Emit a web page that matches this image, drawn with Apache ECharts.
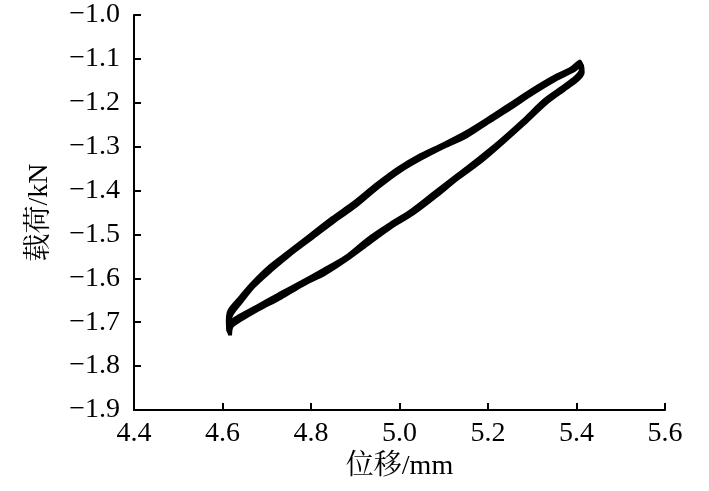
<!DOCTYPE html>
<html>
<head>
<meta charset="utf-8">
<script src="https://cdn.jsdelivr.net/npm/echarts@6/dist/echarts.min.js"></script>
<style>
  html, body { margin: 0; padding: 0; background: #fff; }
  #chart { width: 709px; height: 491px; }
</style>
</head>
<body>
<div id="chart"></div>
<script>
// x / y tick settings
const xTicks = [4.4, 4.6, 4.8, 5.0, 5.2, 5.4, 5.6]
const yTicks = [-1.9, -1.8, -1.7, -1.6, -1.5, -1.4, -1.3, -1.2, -1.1, -1.0]

// 位移(mm) / 载荷(kN) -- several loading cycles, each traced from the lower-left tip,
// up the upper branch to the top tip and back along the lower branch
const cycle1 = [
  [4.615, -1.725], [4.614, -1.700], [4.618, -1.678], [4.640, -1.650], [4.670, -1.615],
  [4.710, -1.575], [4.750, -1.545], [4.800, -1.505], [4.850, -1.467], [4.900, -1.430],
  [4.950, -1.390], [5.000, -1.352], [5.050, -1.322], [5.100, -1.298], [5.150, -1.272],
  [5.200, -1.242], [5.250, -1.208], [5.300, -1.175], [5.350, -1.145], [5.390, -1.125],
  [5.410, -1.110], [5.412, -1.128], [5.400, -1.145], [5.370, -1.168], [5.330, -1.197],
  [5.280, -1.245], [5.230, -1.290], [5.180, -1.332], [5.130, -1.370], [5.080, -1.410],
  [5.030, -1.448], [4.980, -1.480], [4.930, -1.515], [4.880, -1.555], [4.830, -1.585],
  [4.780, -1.612], [4.730, -1.640], [4.680, -1.668], [4.640, -1.690], [4.620, -1.705],
  [4.615, -1.725]
]
const cycle2 = [
  [4.617, -1.730], [4.615, -1.704], [4.620, -1.683], [4.641, -1.655], [4.671, -1.618],
  [4.712, -1.580], [4.751, -1.547], [4.801, -1.509], [4.852, -1.470], [4.901, -1.435],
  [4.951, -1.393], [5.002, -1.355], [5.051, -1.326], [5.101, -1.300], [5.152, -1.276],
  [5.201, -1.244], [5.251, -1.212], [5.302, -1.178], [5.351, -1.148], [5.392, -1.127],
  [5.412, -1.114], [5.414, -1.131], [5.401, -1.149], [5.371, -1.171], [5.331, -1.201],
  [5.281, -1.248], [5.232, -1.292], [5.181, -1.336], [5.131, -1.373], [5.082, -1.413],
  [5.031, -1.452], [4.981, -1.483], [4.932, -1.519], [4.881, -1.557], [4.832, -1.589],
  [4.781, -1.615], [4.732, -1.644], [4.681, -1.671], [4.642, -1.694], [4.621, -1.709],
  [4.617, -1.730]
]
const cycle3 = [
  [4.613, -1.721], [4.612, -1.696], [4.616, -1.673], [4.638, -1.646], [4.668, -1.611],
  [4.708, -1.572], [4.748, -1.541], [4.798, -1.502], [4.848, -1.463], [4.898, -1.427],
  [4.948, -1.386], [4.998, -1.349], [5.048, -1.319], [5.098, -1.295], [5.148, -1.269],
  [5.198, -1.238], [5.248, -1.205], [5.298, -1.172], [5.348, -1.142], [5.388, -1.122],
  [5.408, -1.106], [5.410, -1.125], [5.398, -1.142], [5.368, -1.165], [5.328, -1.194],
  [5.278, -1.242], [5.228, -1.287], [5.178, -1.328], [5.128, -1.367], [5.078, -1.406],
  [5.028, -1.445], [4.978, -1.477], [4.928, -1.511], [4.878, -1.552], [4.828, -1.581],
  [4.778, -1.609], [4.728, -1.636], [4.678, -1.664], [4.638, -1.686], [4.618, -1.701],
  [4.613, -1.721]
]
const cycles = [cycle1, cycle2, cycle3]

const chart = echarts.init(document.getElementById('chart'))
const fontFamily = '"Liberation Serif", "Noto Serif CJK SC", "Noto Sans CJK SC", serif'

const axisCommon = {
  axisLine: { show: true, onZero: false, lineStyle: { color: '#000', width: 2 } },
  axisTick: { show: true, inside: true, length: 7, lineStyle: { color: '#000', width: 2 } },
  splitLine: { show: false },
  nameLocation: 'middle',
  nameTextStyle: { color: '#000', fontSize: 28, fontFamily }
}

chart.setOption({
  backgroundColor: '#fff',
  animation: false,
  grid: { left: 134, right: 44, top: 15, bottom: 81 },
  xAxis: {
    ...axisCommon,
    type: 'value',
    min: xTicks[0],
    max: xTicks[xTicks.length - 1],
    interval: 0.2,
    name: '位移/mm',
    nameGap: 43,
    axisLabel: {
      color: '#000', fontSize: 28, fontFamily, margin: 10,
      formatter: v => v.toFixed(1)
    }
  },
  yAxis: {
    ...axisCommon,
    type: 'value',
    min: yTicks[0],
    max: yTicks[yTicks.length - 1],
    interval: 0.1,
    name: '载荷/kN',
    nameGap: 80,
    nameRotate: 90,
    axisLabel: {
      color: '#000', fontSize: 28, fontFamily, margin: 14,
      formatter: v => '\u2212' + Math.abs(v).toFixed(1)
    }
  },
  series: cycles.map(c => ({
    type: 'line',
    data: c,
    symbol: 'none',
    smooth: 0.3,
    lineStyle: { color: '#000', width: 4 }
  }))
})
</script>
</body>
</html>
